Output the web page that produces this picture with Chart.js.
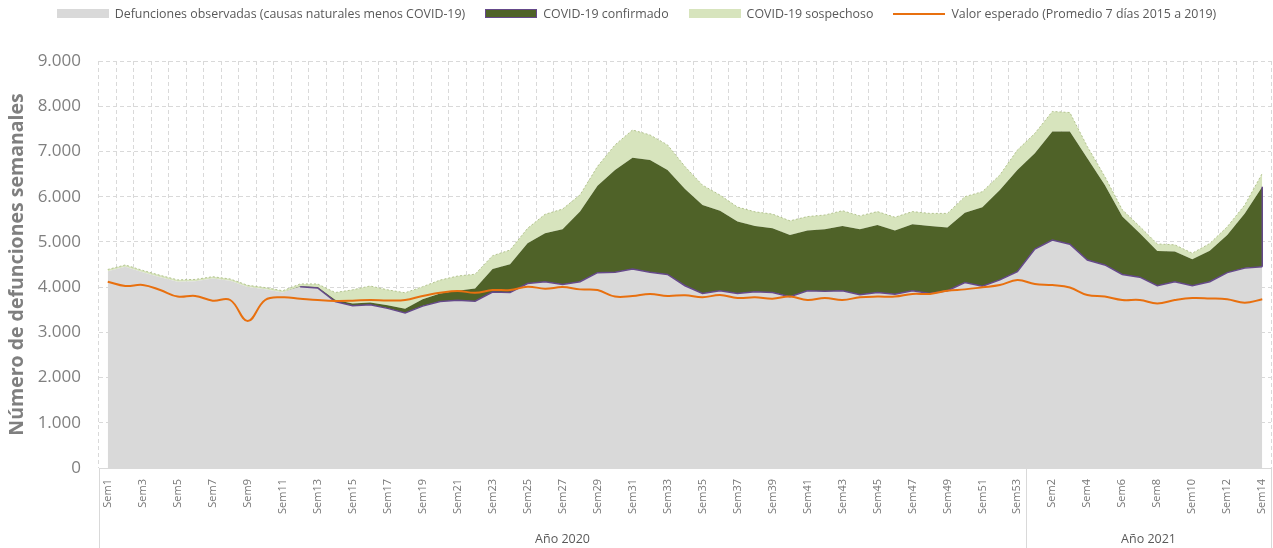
<!DOCTYPE html>
<html><head><meta charset="utf-8">
<script src="https://cdn.jsdelivr.net/npm/chart.js@4.4.1/dist/chart.umd.min.js"></script>
<style>
html,body{margin:0;padding:0;background:#fff;}
#wrap{position:relative;width:1273px;height:548px;overflow:hidden;}
canvas{position:absolute;left:0;top:0;}
#legend{position:absolute;left:0;top:5px;width:1273px;display:flex;justify-content:center;align-items:center;font-family:'Open Sans',sans-serif;font-size:12.4px;color:#595959;white-space:nowrap;}
.item{display:flex;align-items:center;margin:0 10px;}
.sw{width:52px;height:9px;margin-right:6px;box-sizing:border-box;}
.ln{width:52px;height:2px;margin-right:6px;}
</style></head>
<body>
<div id="wrap"><canvas id="c" width="1273" height="548"></canvas><div id="legend"></div></div>
<script>
const categories = ['Sem1','Sem2','Sem3','Sem4','Sem5','Sem6','Sem7','Sem8','Sem9','Sem10','Sem11','Sem12','Sem13','Sem14','Sem15','Sem16','Sem17','Sem18','Sem19','Sem20','Sem21','Sem22','Sem23','Sem24','Sem25','Sem26','Sem27','Sem28','Sem29','Sem30','Sem31','Sem32','Sem33','Sem34','Sem35','Sem36','Sem37','Sem38','Sem39','Sem40','Sem41','Sem42','Sem43','Sem44','Sem45','Sem46','Sem47','Sem48','Sem49','Sem50','Sem51','Sem52','Sem53',
  'Sem1','Sem2','Sem3','Sem4','Sem5','Sem6','Sem7','Sem8','Sem9','Sem10','Sem11','Sem12','Sem13','Sem14'];
const yearLabels = ['Año 2020','Año 2021'];
const yearWeeks = [53, 14];

const observed = [4350,4450,4330,4220,4120,4130,4190,4140,4000,3950,3880,4010,3980,3680,3590,3610,3530,3430,3580,3680,3710,3690,3890,3880,4080,4120,4060,4120,4320,4330,4400,4330,4280,4030,3860,3920,3860,3900,3880,3790,3920,3910,3920,3830,3880,3840,3920,3860,3920,4100,4020,4160,4340,
  4840,5040,4950,4600,4490,4280,4220,4030,4120,4030,4120,4320,4420,4450];
const confirmed = [0,0,0,0,0,0,0,0,0,0,0,10,20,40,50,50,70,90,150,180,210,280,510,625,890,1070,1220,1550,1920,2260,2460,2480,2310,2140,1955,1770,1590,1450,1420,1360,1330,1370,1430,1450,1495,1410,1470,1490,1400,1545,1745,1990,2250,
  2120,2400,2490,2250,1770,1280,970,770,665,585,685,830,1210,1770];
const suspected = [40,40,40,40,40,40,40,40,40,40,40,50,70,160,300,365,340,355,280,295,325,315,295,315,330,420,445,370,430,555,615,555,555,495,440,345,320,315,315,315,310,315,340,295,295,295,280,280,310,355,345,330,440,
  440,445,420,260,185,150,150,155,150,135,160,185,185,295];
const expected = [4120,4025,4047,3936,3790,3805,3700,3715,3250,3715,3775,3745,3715,3695,3700,3715,3705,3715,3805,3875,3915,3875,3935,3935,4010,3965,4000,3950,3935,3790,3805,3850,3805,3820,3775,3825,3760,3775,3745,3790,3715,3760,3715,3775,3790,3790,3850,3850,3920,3950,3995,4045,4155,
  4070,4045,3990,3825,3790,3715,3715,3640,3715,3760,3750,3730,3655,3730];
const yTicks = {min: 0, max: 9000, step: 1000};

const seriesNames = ['Defunciones observadas (causas naturales menos COVID-19)','COVID-19 confirmado','COVID-19 sospechoso','Valor esperado (Promedio 7 días 2015 a 2019)'];
const GREY = '#d9d9d9', DARK = '#4f6228', LIGHT = '#d7e4bd', ORANGE = '#e8700f', PURPLE = '#65498a';

// outline of the confirmed band's lower edge (only where confirmed deaths exist)
const confirmedEdge = observed.map((v, i) => confirmed[i] > 0 ? v : null);

// HTML legend
const leg = document.getElementById('legend');
const legStyles = [
  {cls:'sw', css:'background:'+GREY},
  {cls:'sw', css:'background:'+DARK+';border:1px solid '+PURPLE},
  {cls:'sw', css:'background:'+LIGHT},
  {cls:'ln', css:'background:'+ORANGE}
];
seriesNames.forEach((n,i)=>{
  const it = document.createElement('div'); it.className='item';
  const s = document.createElement('span'); s.className=legStyles[i].cls; s.style.cssText=legStyles[i].css;
  const t = document.createElement('span'); t.textContent = n;
  it.appendChild(s); it.appendChild(t); leg.appendChild(it);
});

Chart.defaults.font.family = "'Open Sans', sans-serif";

const groupPlugin = {
  id: 'groups',
  afterDraw(chart){
    const {ctx, chartArea} = chart; const x = chart.scales.x;
    const half = (x.getPixelForValue(1) - x.getPixelForValue(0)) / 2;
    const edges = [x.getPixelForValue(0) - half];
    let idx = 0;
    yearWeeks.forEach(n => { idx += n; edges.push(x.getPixelForValue(idx - 1) + half); });
    ctx.save();
    ctx.strokeStyle = '#d9d9d9'; ctx.lineWidth = 1; ctx.setLineDash([]);
    ctx.beginPath(); ctx.moveTo(edges[0], Math.round(chartArea.bottom)+0.5); ctx.lineTo(edges[edges.length-1], Math.round(chartArea.bottom)+0.5); ctx.stroke();
    edges.forEach(e => { const xe = Math.round(e) + 0.5; ctx.beginPath(); ctx.moveTo(xe, chartArea.bottom); ctx.lineTo(xe, chart.height); ctx.stroke(); });
    ctx.font = "12.5px 'Open Sans', sans-serif"; ctx.fillStyle = '#595959'; ctx.textAlign = 'center'; ctx.textBaseline = 'middle';
    yearLabels.forEach((t, g) => ctx.fillText(t, (edges[g] + edges[g+1]) / 2, chart.height - 9));
    ctx.restore();
  },
  afterDatasetsDraw(chart){
    const ctx = chart.ctx;
    const mObs = chart.getDatasetMeta(2).data, mConf = chart.getDatasetMeta(3).data;
    const last = mObs.length - 1;
    ctx.save(); ctx.strokeStyle = PURPLE; ctx.lineWidth = 1.5;
    ctx.beginPath(); ctx.moveTo(mObs[last].x, mObs[last].y); ctx.lineTo(mConf[last].x, mConf[last].y); ctx.stroke();
    ctx.restore();
  }
};

new Chart(document.getElementById('c'), {
  type: 'line',
  data: {
    labels: categories,
    datasets: [
      {label: seriesNames[3], data: expected, stack: 'exp', borderColor: ORANGE, borderWidth: 2, tension: 0.4, fill: false, pointRadius: 0, order: -2},
      {label: 'edge', data: confirmedEdge, stack: 'edge', borderColor: PURPLE, borderWidth: 1.5, fill: false, pointRadius: 0, spanGaps: false, order: -1},
      {label: seriesNames[0], data: observed, stack: 'a', backgroundColor: GREY, fill: 'origin', borderWidth: 0, borderColor: 'rgba(0,0,0,0)', pointRadius: 0, order: 0},
      {label: seriesNames[1], data: confirmed, stack: 'a', backgroundColor: DARK, fill: '-1', borderWidth: 0, borderColor: 'rgba(0,0,0,0)', pointRadius: 0, order: 0},
      {label: seriesNames[2], data: suspected, stack: 'a', backgroundColor: LIGHT, fill: '-1', borderWidth: 1, borderColor: '#b3c38f', borderDash: [2,2], pointRadius: 0, order: 0}
    ]
  },
  options: {
    responsive: false, animation: false,
    layout: {padding: {top: 61, right: 2, left: 0, bottom: 0}},
    plugins: {legend: {display: false}, tooltip: {enabled: false}},
    elements: {line: {tension: 0}},
    scales: {
      x: {
        offset: true,
        grid: {offset: true, color: '#d9d9d9', drawTicks: false, lineWidth: 1},
        border: {display: false, dash: [4,3]},
        ticks: {autoSkip: false, maxRotation: 90, minRotation: 90, padding: 11, color: '#767676', font: {size: 11},
          callback(v, i){ return i % 2 === 0 ? this.getLabelForValue(v) : ''; }},
        afterFit(s){ s.height = 80; s.paddingLeft = 0; s.paddingRight = 0; }
      },
      y: {
        stacked: true, min: yTicks.min, max: yTicks.max,
        grid: {color: '#d9d9d9', drawTicks: false, lineWidth: 1},
        border: {display: false, dash: [4,3]},
        ticks: {stepSize: yTicks.step, padding: 18, color: '#7f7f7f', font: {size: 17},
          callback: v => v.toLocaleString('de-DE')},
        title: {display: true, text: 'Número de defunciones semanales', color: '#7f7f7f', font: {size: 19.5, weight: 'bold'}, padding: {top: 6, bottom: 0}},
        afterFit(s){ s.width = 99; }
      }
    }
  },
  plugins: [groupPlugin]
});
</script>
</body></html>
